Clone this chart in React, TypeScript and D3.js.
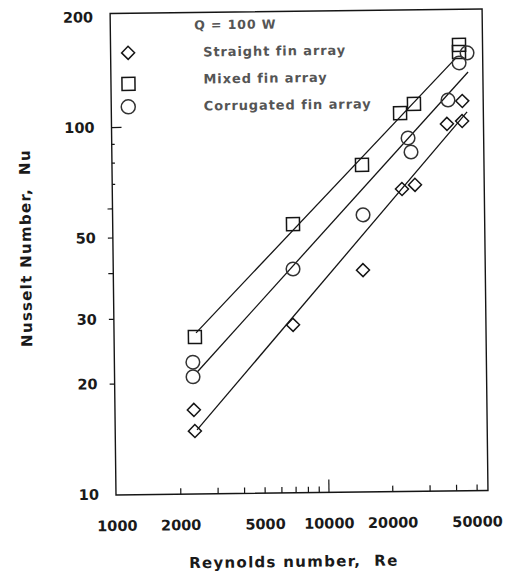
import React from "react";
import * as d3 from "d3";

// ---- data (Re, Nu) ----
const straightRe = [2330, 2350, 6920, 14900, 23000, 26500, 37800, 44600, 44800];
const straightNu = [16.9, 14.8, 28.6, 40.1, 66.5, 68.2, 99.7, 101.4, 115.0];

const mixedRe = [2380, 7010, 14950, 22760, 26500, 43570, 43500];
const mixedNu = [26.7, 53.8, 77.6, 107.1, 113.3, 163.5, 156.4];

const corrRe = [2320, 2320, 6970, 15020, 24740, 25500, 38370, 43500, 47480];
const corrNu = [22.8, 20.8, 40.6, 56.7, 91.5, 83.8, 115.8, 146.0, 155.4];

// correlation lines: [Re start, Re end], [Nu start, Nu end]
const mixedFitRe = [2411, 42070];
const mixedFitNu = [27.4, 150.8];
const corrFitRe = [2424, 47880];
const corrFitNu = [21.4, 137.9];
const straightFitRe = [2406, 47120];
const straightFitNu = [14.9, 107.3];

const xTickLabels = [1000, 2000, 5000, 10000, 20000, 50000];
const xMinorTicks = [2000, 3000, 4000, 5000, 6000, 7000, 8000, 9000, 10000, 20000, 30000, 40000, 50000];
const yTickLabels = [10, 20, 30, 50, 100, 200];
const yInnerTicks = [70, 80, 90, 100];
const yOuterTicks = [20, 30, 40, 50, 60];

const legendLabels = ["Straight fin array", "Mixed fin array", "Corrugated fin array"];
const headerText = "Q = 100 W";

const W = 512;
const H = 573;

export default function App() {
  const x = d3.scaleLog().domain([1000, 50000]).range([117, 117 + 212 * Math.log10(50)]);
  const y = d3.scaleLog().domain([10, 200]).range([494.5, 494.5 - 367 * Math.log10(20)]);

  const left = 116, right = 488, top = 13.5, bottom = 495;
  const ink = "#151515";
  const font = "'DejaVu Sans', Arial, sans-serif";

  const line = d3
    .line<[number, number]>()
    .x((d) => x(d[0]))
    .y((d) => y(d[1]));

  const fits: [number[], number[]][] = [
    [mixedFitRe, mixedFitNu],
    [corrFitRe, corrFitNu],
    [straightFitRe, straightFitNu],
  ];

  const diamond = (cx: number, cy: number, r = 6.5) =>
    `M${cx},${cy - r}L${cx + r},${cy}L${cx},${cy + r}L${cx - r},${cy}Z`;

  const markerStroke = { fill: "none", stroke: ink, strokeWidth: 1.5 };

  return (
    <svg
      width={W}
      height={H}
      style={{ position: "absolute", left: 0, top: 0, background: "#fff" }}
    >
      <g transform={`rotate(-0.7, ${left}, ${bottom})`}>
        {/* frame */}
        <rect
          x={left}
          y={top}
          width={right - left}
          height={bottom - top}
          fill="none"
          stroke={ink}
          strokeWidth={1.4}
        />

        {/* x ticks (inward) */}
        {xMinorTicks.map((t) => (
          <line
            key={"xt" + t}
            x1={x(t)}
            x2={x(t)}
            y1={bottom}
            y2={bottom - (t === 10000 ? 13 : 6)}
            stroke={ink}
            strokeWidth={1.2}
          />
        ))}
        {/* y ticks */}
        {yInnerTicks.map((t) => (
          <line
            key={"yi" + t}
            x1={left}
            x2={left + (t === 100 ? 10 : 3)}
            y1={y(t)}
            y2={y(t)}
            stroke={ink}
            strokeWidth={1.2}
          />
        ))}
        {yOuterTicks.map((t) => (
          <line
            key={"yo" + t}
            x1={left - 5}
            x2={left}
            y1={y(t)}
            y2={y(t)}
            stroke={ink}
            strokeWidth={1.2}
          />
        ))}

        {/* tick labels */}
        {xTickLabels.map((t) => (
          <text
            key={"xl" + t}
            x={x(t)}
            y={526}
            textAnchor="middle"
            dominantBaseline="central"
            fontFamily={font}
            fontWeight="bold"
            fontSize={14.5}
            fill="#1a1a1a"
          >
            {t}
          </text>
        ))}
        {yTickLabels.map((t) => (
          <text
            key={"yl" + t}
            x={99}
            y={y(t)}
            textAnchor="end"
            dominantBaseline="central"
            fontFamily={font}
            fontWeight="bold"
            fontSize={14.5}
            fill="#1a1a1a"
          >
            {t}
          </text>
        ))}

        {/* axis titles */}
        <text
          x={293}
          y={564}
          textAnchor="middle"
          dominantBaseline="central"
          fontFamily={font}
          fontWeight="bold"
          fontSize={15}
          letterSpacing={1.3}
          fill="#1a1a1a"
          style={{ whiteSpace: "pre" }}
        >
          {"Reynolds number,  Re"}
        </text>
        <text
          transform="translate(29,247) rotate(-90)"
          textAnchor="middle"
          dominantBaseline="central"
          fontFamily={font}
          fontWeight="bold"
          fontSize={15}
          letterSpacing={1.3}
          fill="#1a1a1a"
          style={{ whiteSpace: "pre" }}
        >
          {"Nusselt Number,  Nu"}
        </text>

        {/* correlation lines */}
        {fits.map(([re, nu], i) => (
          <path
            key={"fit" + i}
            d={line(re.map((r, j) => [r, nu[j]] as [number, number])) || ""}
            fill="none"
            stroke={ink}
            strokeWidth={1.3}
          />
        ))}

        {/* straight fin: diamonds */}
        {straightRe.map((r, i) => (
          <path key={"s" + i} d={diamond(x(r), y(straightNu[i]))} {...markerStroke} />
        ))}
        {/* mixed fin: squares */}
        {mixedRe.map((r, i) => (
          <rect
            key={"m" + i}
            x={x(r) - 6.5}
            y={y(mixedNu[i]) - 6.5}
            width={13}
            height={13}
            {...markerStroke}
          />
        ))}
        {/* corrugated fin: circles */}
        {corrRe.map((r, i) => (
          <circle key={"c" + i} cx={x(r)} cy={y(corrNu[i])} r={6.8} {...markerStroke} stroke="#333" />
        ))}

        {/* legend */}
        <text
          x={200}
          y={26}
          dominantBaseline="central"
          fontFamily={font}
          fontWeight="bold"
          fontSize={12.5}
          letterSpacing={0.9}
          fill="#555"
        >
          {headerText}
        </text>
        <path d={diamond(133.5, 53)} {...markerStroke} />
        <rect x={127} y={77.5} width={13} height={13} {...markerStroke} />
        <circle cx={133} cy={107} r={7} {...markerStroke} stroke="#333" />
        {legendLabels.map((lab, i) => (
          <text
            key={"lg" + i}
            x={208.5}
            y={53 + i * 27}
            dominantBaseline="central"
            fontFamily={font}
            fontWeight="bold"
            fontSize={13}
            letterSpacing={0.9}
            fill="#555"
          >
            {lab}
          </text>
        ))}
      </g>
    </svg>
  );
}
